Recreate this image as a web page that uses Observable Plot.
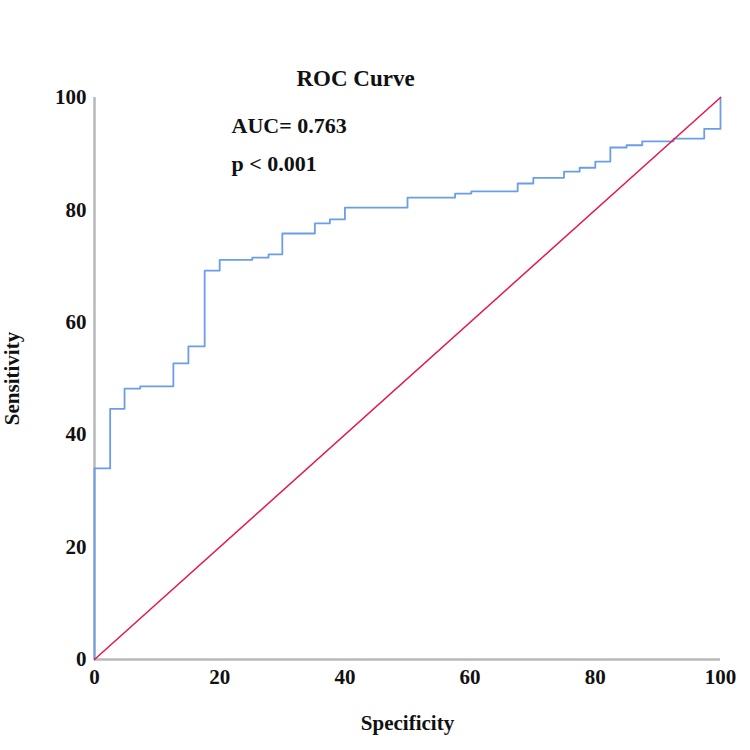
<!DOCTYPE html>
<html>
<head>
<meta charset="utf-8">
<script src="https://cdn.jsdelivr.net/npm/d3@7"></script>
<script src="https://cdn.jsdelivr.net/npm/@observablehq/plot@0.6"></script>
<style>
  html, body { margin: 0; padding: 0; background: #fff; }
</style>
</head>
<body>
<div id="chart"></div>
<script>
// ROC step curve (specificity %, sensitivity %)
const specificity = [0, 0, 2.5, 4.8, 7.3, 12.6, 15.0, 17.6, 20.0, 25.2, 27.8, 30.0, 35.2, 37.6, 40.0, 50.0, 57.6, 60.2, 67.6, 70.1, 75.0, 77.5, 80.0, 82.4, 85.0, 87.5, 92.5, 97.4, 100];
const sensitivity = [0, 34.0, 44.6, 48.2, 48.6, 52.7, 55.7, 69.2, 71.1, 71.5, 72.1, 75.8, 77.6, 78.3, 80.4, 82.2, 82.9, 83.3, 84.7, 85.7, 86.8, 87.5, 88.6, 91.1, 91.5, 92.2, 92.7, 94.4, 100];
// reference diagonal
const refX = [0, 100];
const refY = [0, 100];
const ticks = [0, 20, 40, 60, 80, 100];
const titleText = "ROC Curve";
const aucText = "AUC= 0.763";
const pText = "p < 0.001";

const roc = specificity.map((x, i) => ({x, y: sensitivity[i]}));
const diag = refX.map((x, i) => ({x, y: refY[i]}));

const chart = Plot.plot({
  width: 750,
  height: 750,
  marginLeft: 94,
  marginRight: 30,
  marginTop: 97,
  marginBottom: 91,
  style: {fontFamily: "'Liberation Serif', 'Times New Roman', serif", fontWeight: "bold", color: "#111", background: "#fff"},
  x: {domain: [0, 100]},
  y: {domain: [0, 100]},
  marks: [
    Plot.axisX({ticks, tickSize: 0, tickPadding: 10, fontSize: 21, label: "Specificity", labelAnchor: "center", labelOffset: 70, labelArrow: "none"}),
    Plot.axisY({ticks, tickSize: 0, tickPadding: 8, fontSize: 21, label: "Sensitivity", labelAnchor: "center", labelOffset: 90, labelArrow: "none"}),
    Plot.ruleY([0], {stroke: "#b8b8b8", strokeWidth: 2.5}),
    Plot.ruleX([0], {stroke: "#b8b8b8", strokeWidth: 2.5}),
    Plot.line(roc, {x: "x", y: "y", curve: "step-after", stroke: "#6a9ee8", strokeWidth: 1.8}),
    Plot.line(diag, {x: "x", y: "y", stroke: "#e8174a", strokeWidth: 1.5}),
    Plot.text([titleText], {frameAnchor: "top-left", dx: 261, dy: -19, lineAnchor: "middle", text: d => d, textAnchor: "middle", fontSize: 23}),
    Plot.text([aucText], {frameAnchor: "top-left", dx: 137, dy: 28, lineAnchor: "middle", text: d => d, textAnchor: "start", fontSize: 22}),
    Plot.text([pText], {frameAnchor: "top-left", dx: 137, dy: 66, lineAnchor: "middle", text: d => d, textAnchor: "start", fontSize: 22})
  ]
});
document.getElementById("chart").appendChild(chart);
</script>
</body>
</html>
